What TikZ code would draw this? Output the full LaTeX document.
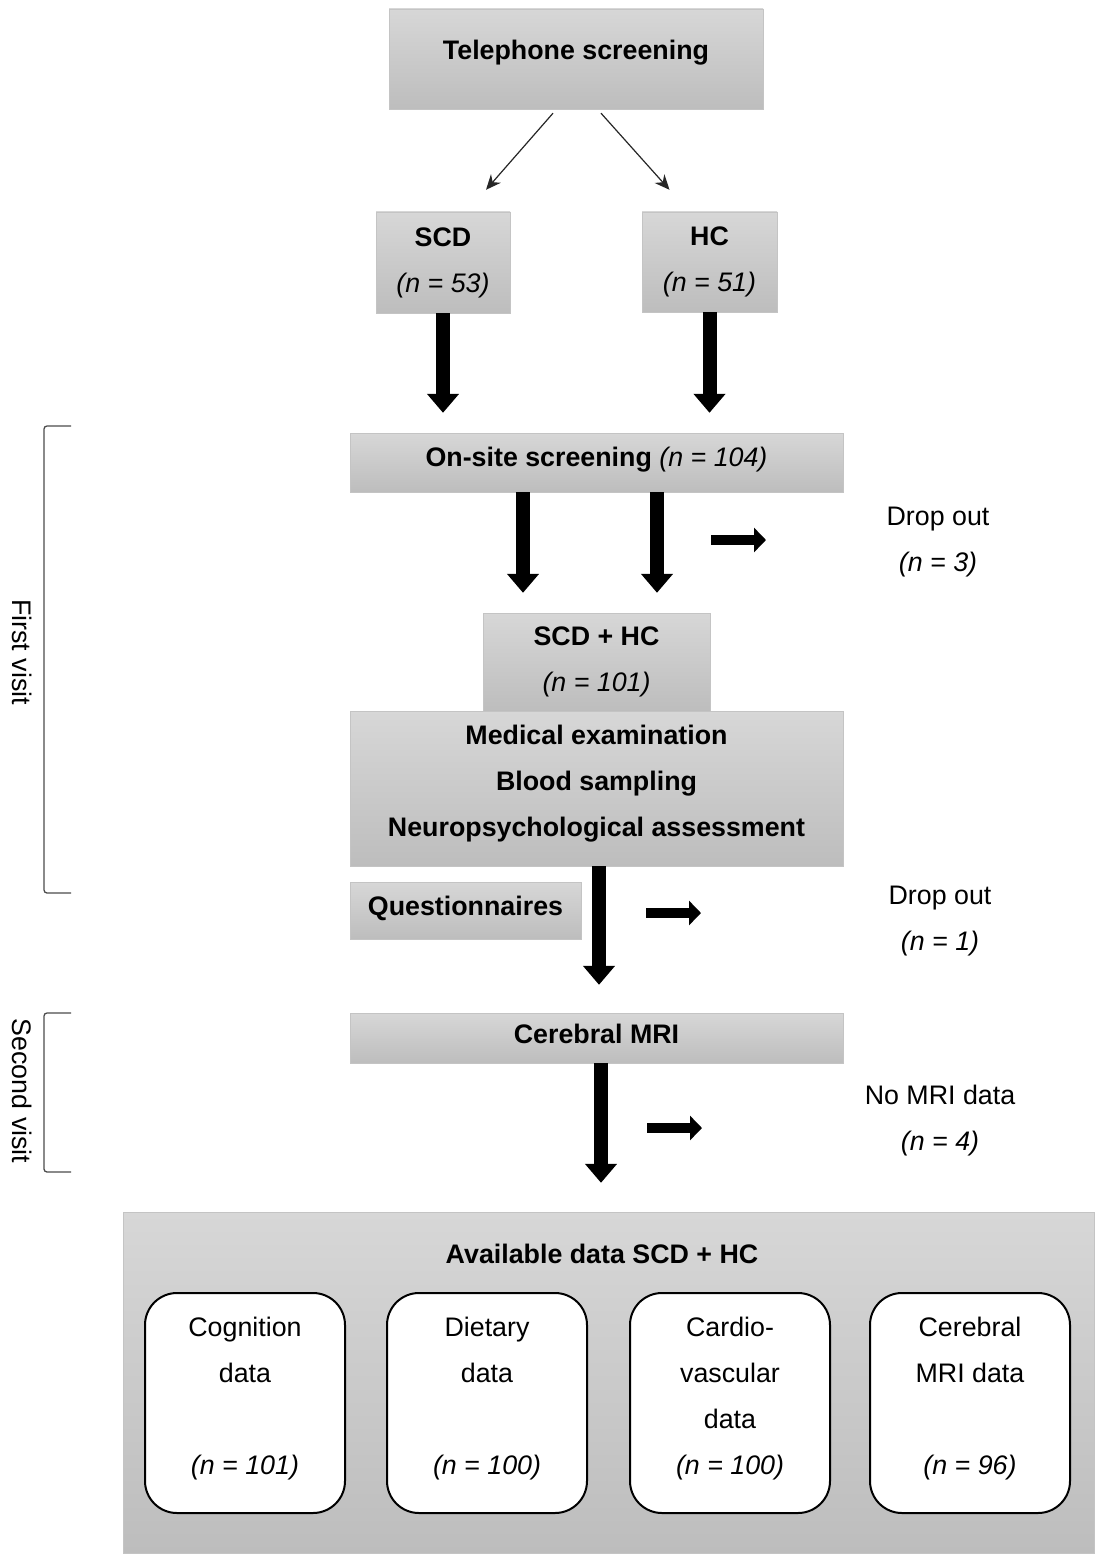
\documentclass[tikz,border=0pt]{standalone}
\usepackage{fontspec}
\setmainfont{Liberation Sans}
\usepackage{xcolor}
\usepackage{tikz}
\usetikzlibrary{arrows.meta,positioning,calc}

\definecolor{boxtop}{RGB}{215,215,215}
\definecolor{boxbot}{RGB}{189,189,189}
\definecolor{boxline}{RGB}{196,196,196}

\begin{document}
\fontsize{26.8pt}{46pt}\selectfont
\begin{tikzpicture}[
		x = 1pt, y = -1pt, % pixel grid, y going down
		thinarrow/.style = {draw = black!85, line width = 1.2pt, -{Stealth[length=15pt,width=13pt]}}, % arrow head style
		fatarrow/.style = {line width = 14pt, -{Triangle[length=19pt,width=31pt]}},
		sidearrow/.style = {line width = 10pt, -{Triangle[length=12pt,width=24pt]}},
		bracket/.style = {draw = black!70, line width = 1.3pt, rounded corners = 3pt},
		outtext/.style = {align = center}
	]
	
	\tikzset{
	greybox/.style = {
		draw = boxline,
		top color = boxtop,
		bottom color = boxbot,
		inner sep = 0pt,
		align = center,
		font = \bfseries
	},
	databox/.style = {
		draw = black,
		line width = 2pt,
		fill = white,
		rounded corners = 32pt,
		minimum width = 200pt,
		minimum height = 220pt,
		text depth = 15pt,
		align = center
	}
	}
	
	\useasboundingbox (0,0) rectangle (1096,1562);
	
	\node[greybox, minimum width = 374pt, minimum height = 100pt, text depth = 18pt] (phone) at (576,59) {Telephone screening};
	\node[greybox, minimum width = 134pt, minimum height = 101pt] (scd) at (443,262.5) {SCD\\{\normalfont\itshape (n = 53)}};
	\node[greybox, minimum width = 135pt, minimum height = 100pt] (hc) at (709.5,262) {HC\\{\normalfont\itshape (n = 51)}};
	
	\node[greybox, minimum width = 493pt, minimum height = 59pt, text depth = 11pt] (onsite) at (596.5,462.5) {On-site screening {\normalfont\itshape (n = 104)}};
	\node[greybox, minimum width = 227pt, minimum height = 98pt] (schc) at (596.5,662) {SCD + HC\\{\normalfont\itshape (n = 101)}};
	\node[greybox, minimum width = 493pt, minimum height = 155pt, text depth = 16pt] (medexam) at (596.5,788.5) {Medical examination\\Blood sampling\\Neuropsychological assessment};
	\node[greybox, minimum width = 231pt, minimum height = 57pt, text depth = 9pt] (quest) at (465.5,910.5) {Questionnaires};
	\node[greybox, minimum width = 493pt, minimum height = 50pt, text depth = 9pt] (mriscan) at (596.5,1038) {Cerebral MRI};
	
	\node[outtext] (drop1) at (938,542) {Drop out\\{\itshape (n = 3)}};
	\node[outtext] (drop2) at (940,921) {Drop out\\{\itshape (n = 1)}};
	\node[outtext] (nomri) at (940,1121) {No MRI data\\{\itshape (n = 4)}};
	
	% available data
	\node[greybox, minimum width = 971pt, minimum height = 341pt] (avail) at (608.5,1382.5) {};
	\node[font = \bfseries] (availtitle) at (602,1254) {Available data SCD + HC};
	\node[databox] (cog) at (245,1403) {Cognition\\data\\[46pt]{\itshape (n = 101)}};
	\node[databox, right = 40pt of cog] (diet) {Dietary\\data\\[46pt]{\itshape (n = 100)}};
	\node[databox, right = 41pt of diet] (cardio) {Cardio-\\vascular\\data\\{\itshape (n = 100)}};
	\node[databox, right = 38pt of cardio] (cmri) {Cerebral\\MRI data\\[46pt]{\itshape (n = 96)}};
	
	% visits
	\node[rotate = -90] (firstvisit) at (22,652) {First visit};
	\node[rotate = -90] (secondvisit) at (22,1091) {Second visit};
	\coordinate (fvtop) at (71,426);
	\coordinate (fvbot) at (71,893);
	\coordinate (svtop) at (71,1013);
	\coordinate (svbot) at (71,1172);
	\draw[bracket] (fvtop) -- ++(-27,0) |- (fvbot);
	\draw[bracket] (svtop) -- ++(-27,0) |- (svbot);
	
	% arrows
	\draw[thinarrow] ([xshift=-23pt,yshift=-4pt]phone.south) -- ([xshift=43pt,yshift=22pt]scd.north);
	\draw[thinarrow] ([xshift=25pt,yshift=-4pt]phone.south) -- ([xshift=-40pt,yshift=22pt]hc.north);
	
	\draw[fatarrow, shorten > = 20pt] (scd.south) -- (scd.south |- onsite.north);
	\draw[fatarrow, shorten > = 20pt] (hc.south) -- (hc.south |- onsite.north);
	\draw[fatarrow, shorten > = 20pt] ([xshift=-73.5pt]onsite.south) -- ([xshift=-73.5pt]schc.north);
	\draw[fatarrow, shorten > = 20pt] ([xshift=60.5pt]onsite.south) -- ([xshift=60.5pt]schc.north);
	\draw[fatarrow, shorten > = 28pt] ([xshift=2.5pt]medexam.south) -- ([xshift=2.5pt]mriscan.north);
	\coordinate (mriout) at ([xshift=4.5pt]mriscan.south);
	\draw[fatarrow, shorten > = 29pt] (mriout) -- (mriout |- avail.north);
	
	\coordinate (drop1a) at (711,540);
	\coordinate (drop1b) at (766,540);
	\coordinate (drop2a) at (646,913);
	\coordinate (drop2b) at (701,913);
	\coordinate (nomria) at (647,1128);
	\coordinate (nomrib) at (702,1128);
	\draw[sidearrow] (drop1a) -- (drop1b);
	\draw[sidearrow] (drop2a) -- (drop2b);
	\draw[sidearrow] (nomria) -- (nomrib);
\end{tikzpicture}
\end{document}
